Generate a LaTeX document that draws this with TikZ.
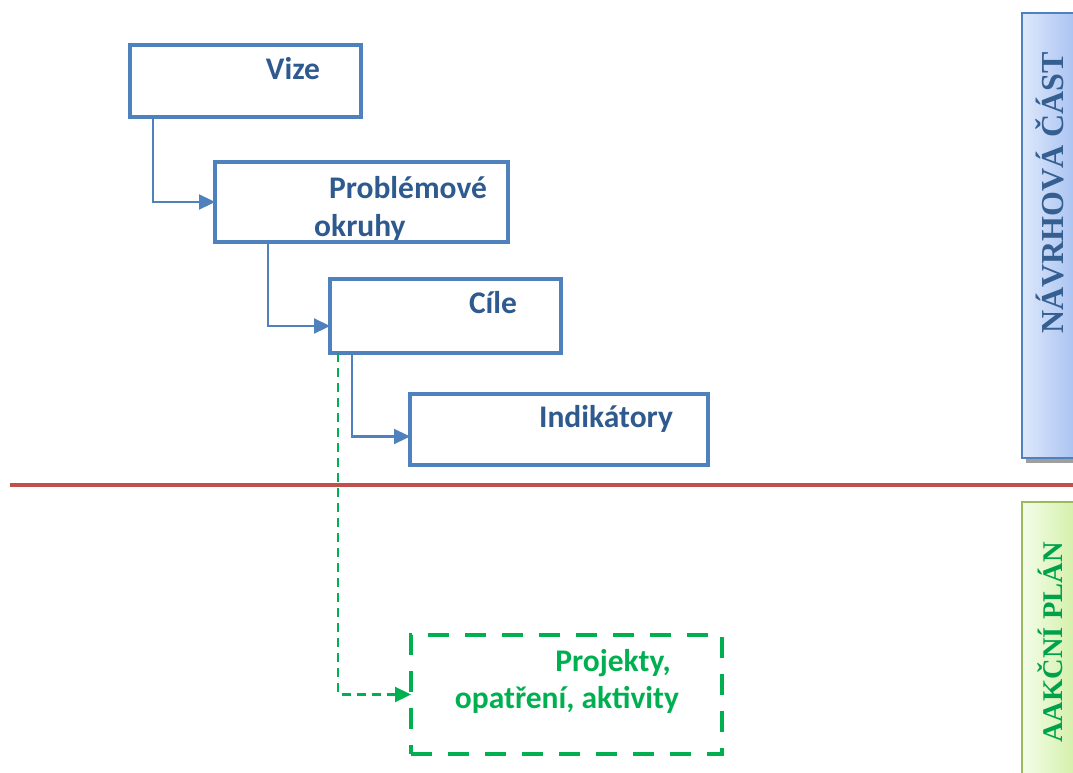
\documentclass[tikz,border=0pt]{standalone}
\usepackage{fontspec}
\setmainfont{Liberation Serif}
\newfontfamily\calfont{Carlito}
\usetikzlibrary{arrows.meta,positioning}
\definecolor{boxblue}{HTML}{4F81BD}
\definecolor{txtblue}{HTML}{2F5A8F}
\definecolor{grn}{HTML}{00B050}
\definecolor{linered}{HTML}{C0504D}
\definecolor{bartxtblue}{HTML}{365F91}
\definecolor{bartxtgreen}{HTML}{00A14B}
\definecolor{barblueL}{HTML}{DDE8FB}
\definecolor{barblueR}{HTML}{A7C1F2}
\definecolor{bargreenL}{HTML}{F3FDE9}
\definecolor{bargreenR}{HTML}{D2EFA6}
\definecolor{bargreenB}{HTML}{9BBB59}
\tikzset{
  bluebox/.style={draw=boxblue, line width=4.5pt, rectangle, inner sep=0pt, outer sep=0pt},
  greenbox/.style={draw=grn, line width=4.5pt, rectangle, inner sep=0pt, outer sep=0pt, dash pattern=on 21pt off 16pt},
  boxtxt/.style={font=\calfont\bfseries\fontsize{31.5}{36}\selectfont, text=txtblue, inner sep=0pt, anchor=base},
  greentxt/.style={font=\calfont\bfseries\fontsize{31.5}{36}\selectfont, text=grn, inner sep=0pt, anchor=base},
  conn/.style={draw=boxblue, line width=2.3pt, -{Triangle[length=16pt,width=15pt]}},
  gconn/.style={draw=grn, line width=2.3pt, dash pattern=on 9pt off 6pt, -{Triangle[length=16pt,width=15pt]}},
  bartxt/.style={font=\bfseries, rotate=90, anchor=base, inner sep=0pt}
}
\begin{document}
\begin{tikzpicture}[x=1pt,y=-1pt]
\useasboundingbox (0,0) rectangle (1073,773);
% texts
\node[boxtxt] (tvize) at (293,80) {Vize};
\node[boxtxt] (tprob) at (408,198) {Problémové};
\node[boxtxt, anchor=base west] (tokr) at (314,236) {okruhy};
\node[boxtxt] (tcile) at (493,313) {Cíle};
\node[boxtxt] (tind) at (606,427) {Indikátory};
\node[greentxt] (tproj1) at (613,671) {Projekty,};
\node[greentxt] (tproj2) at (567,708) {opatření, aktivity};
% boxes
\node[bluebox, minimum width=231pt, minimum height=72pt] (vize) at (245.5,81) {};
\node[bluebox, minimum width=293pt, minimum height=80pt] (prob) at (361.5,202) {};
\node[bluebox, minimum width=231pt, minimum height=74pt] (cile) at (445.5,316) {};
\node[bluebox, minimum width=298pt, minimum height=71pt] (ind) at (559,429.5) {};
\node[greenbox, minimum width=311pt, minimum height=119pt] (proj) at (566.5,694.5) {};
% connectors
\draw[conn] ([xshift=23pt]vize.south west) |- (prob.west);
\draw[conn] ([xshift=53pt]prob.south west) |- ([yshift=-10pt]cile.west);
\draw[conn] ([xshift=22pt]cile.south west) |- ([yshift=-7pt]ind.west);
\draw[gconn] ([xshift=8pt]cile.south west) |- (proj.west);
% red divider
\draw[linered, line width=3.5pt] (10,485) -- (1073,485);
% right bars
\fill[gray!75] (1026,18) rectangle (1080,463);
\shade[left color=barblueL, right color=barblueR] (1022,13) rectangle (1078,458);
\draw[boxblue, line width=1.5pt] (1078,13) -- (1022,13) -- (1022,458) -- (1078,458);
\node[bartxt, text=bartxtblue, font=\bfseries\fontsize{32}{36}\selectfont] (lnav) at (1063,193) {NÁVRHOVÁ ČÁST};
\shade[left color=bargreenL, right color=bargreenR] (1022,502) rectangle (1078,780);
\draw[bargreenB, line width=1.5pt] (1078,502) -- (1022,502) -- (1022,780);
\node[bartxt, text=bartxtgreen, font=\bfseries\fontsize{28.5}{32}\selectfont] (lakc) at (1062,642.5) {AAKČNÍ PLÁN};
\end{tikzpicture}
\end{document}
